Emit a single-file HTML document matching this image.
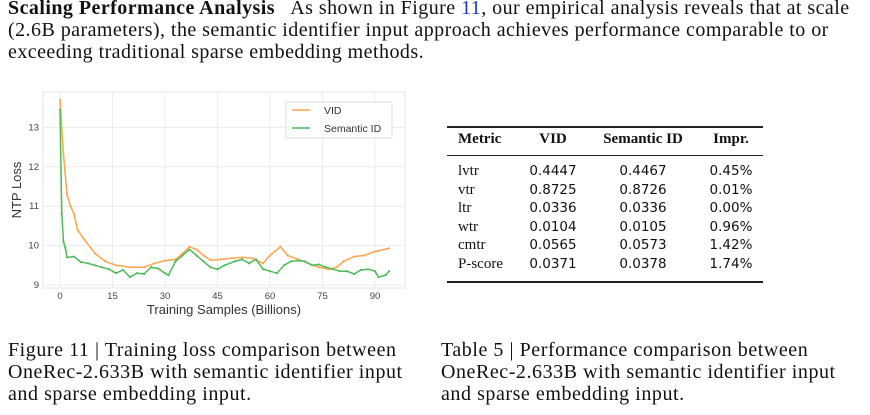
<!DOCTYPE html>
<html><head><meta charset="utf-8"><style>
body{margin:0;width:870px;height:415px;background:#fff;position:relative;overflow:hidden;font-family:"Liberation Serif",serif;color:#111}
.p{position:absolute;left:8px;font-size:20px;white-space:nowrap;letter-spacing:0.45px}
.cap{position:absolute;font-size:20px;line-height:22px;white-space:nowrap;letter-spacing:0.55px}
.t{position:absolute;font-size:15px;white-space:nowrap}
.n{font-family:"DejaVu Sans","Liberation Sans",sans-serif;font-size:13.5px}
.rule{position:absolute;left:447px;width:316px;background:#222}
</style></head><body>
<div class="p" style="top:-3px"><b>Scaling Performance Analysis</b>&nbsp;&nbsp; As shown in Figure <span style="color:#2233cc">11</span>, our empirical analysis reveals that at scale</div>
<div class="p" style="top:19px">(2.6B parameters), the semantic identifier input approach achieves performance comparable to or</div>
<div class="p" style="top:41px">exceeding traditional sparse embedding methods.</div>

<svg width="420" height="235" style="position:absolute;left:0;top:85px" id="chart"></svg>

<div class="rule" style="top:126px;height:1.5px"></div>
<div class="rule" style="top:155px;height:1px"></div>
<div class="rule" style="top:281px;height:1.5px"></div>
<div id="tbl"></div>

<div class="cap" style="left:8px;top:339px">Figure 11 | Training loss comparison between<br>OneRec-2.633B with semantic identifier input<br>and sparse embedding input.</div>
<div class="cap" style="left:441px;top:339px">Table 5 | Performance comparison between<br>OneRec-2.633B with semantic identifier input<br>and sparse embedding input.</div>

<script>
const vidX=[0,1,2,3,4,5,7,10,13,16,20,24,27,30,33,35,37,39,41,43,46,49,52,55,58,60,63,65,68,71,74,77,79,81,84,87,90,94];
const vidY=[13.7,12.3,11.3,11.0,10.8,10.4,10.15,9.8,9.6,9.5,9.45,9.45,9.55,9.62,9.65,9.8,9.97,9.9,9.75,9.63,9.65,9.68,9.7,9.68,9.55,9.75,9.97,9.75,9.65,9.55,9.45,9.4,9.45,9.6,9.72,9.75,9.85,9.93];
const semX=[0,0.5,1,1.5,2,4,6,8,10,12,14,16,18,20,22,24,26,28,30,31,33,35,37,39,41,43,45,47,50,52,54,56,58,60,62,64,66,68,70,72,74,76,78,80,82,84,86,88,90,91,93,94];
const semY=[13.45,10.8,10.1,9.95,9.7,9.72,9.58,9.55,9.5,9.45,9.4,9.3,9.38,9.2,9.3,9.28,9.45,9.42,9.3,9.25,9.6,9.75,9.9,9.75,9.6,9.45,9.4,9.5,9.6,9.65,9.55,9.65,9.4,9.35,9.3,9.5,9.6,9.62,9.6,9.5,9.52,9.45,9.4,9.35,9.35,9.28,9.38,9.4,9.35,9.2,9.25,9.35];
const xTicks=[0,15,30,45,60,75,90];
const yTicks=[9,10,11,12,13];
const svg=document.getElementById('chart');
const NS='http://www.w3.org/2000/svg';
const sx=v=>60+v*3.5, sy=v=>200-(v-9)*39.4;
function mk(t,a,p){const e=document.createElementNS(NS,t);for(const k in a)e.setAttribute(k,a[k]);(p||svg).appendChild(e);return e;}
const frame=mk('rect',{x:43,y:7,width:362,height:196,fill:'#fff',stroke:'#e6e6e6'});


xTicks.forEach(t=>{const l=mk('line',{x1:sx(t),x2:sx(t),y1:7,y2:203,stroke:'#ececec'});


const tx=mk('text',{x:sx(t),y:214,'font-size':9.5,'text-anchor':'middle',fill:'#444','font-family':'Liberation Sans, sans-serif'});tx.textContent=t;

});
yTicks.forEach(t=>{const l=mk('line',{x1:43,x2:405,y1:sy(t),y2:sy(t),stroke:'#ececec'});


const tx=mk('text',{x:39,y:sy(t)+3,'font-size':9.5,'text-anchor':'end',fill:'#444','font-family':'Liberation Sans, sans-serif'});tx.textContent=t;

});
function series(xs,ys,c,name){const d=xs.map((x,i)=>(i?'L':'M')+sx(x).toFixed(1)+','+sy(ys[i]).toFixed(1)).join('');
const p=mk('path',{d:d,fill:'none',stroke:c,'stroke-width':1.5});


xs.forEach((x,i)=>{const c2=mk('circle',{cx:sx(x),cy:sy(ys[i]),r:1.1,fill:c});

});}
series(vidX,vidY,'#ffa64d','vid-line');
series(semX,semY,'#4dbb5a','semantic-id-line');
const xl=mk('text',{x:224,y:229,'font-size':13,'text-anchor':'middle',fill:'#333','font-family':'Liberation Sans, sans-serif'});xl.textContent='Training Samples (Billions)';


const yl=mk('text',{x:0,y:0,'font-size':13,'text-anchor':'middle',fill:'#333','font-family':'Liberation Sans, sans-serif',transform:'translate(21,105) rotate(-90)'});yl.textContent='NTP Loss';


const lg=mk('g',{});


mk('rect',{x:286,y:17,width:106,height:36,fill:'#fff',stroke:'#ddd'},lg);
mk('line',{x1:292,x2:310,y1:25,y2:25,stroke:'#ffa64d','stroke-width':1.5},lg);
mk('line',{x1:292,x2:310,y1:43,y2:43,stroke:'#4dbb5a','stroke-width':1.5},lg);
const t1=mk('text',{x:324,y:29,'font-size':10.5,fill:'#333','font-family':'Liberation Sans, sans-serif'},lg);t1.textContent='VID';
const t2=mk('text',{x:324,y:47,'font-size':10.5,fill:'#333','font-family':'Liberation Sans, sans-serif'},lg);t2.textContent='Semantic ID';

const rows=[['lvtr','0.4447','0.4467','0.45%'],['vtr','0.8725','0.8726','0.01%'],['ltr','0.0336','0.0336','0.00%'],['wtr','0.0104','0.0105','0.96%'],['cmtr','0.0565','0.0573','1.42%'],['P-score','0.0371','0.0378','1.74%']];
const tb=document.getElementById('tbl');
const cx=[458,553,643,731];
function cell(txt,x,y,cls,left,bold){const d=document.createElement('div');d.className='t '+(cls||'');d.textContent=txt;
d.style.top=(y-10)+'px';
if(left){d.style.left=x+'px';}else{d.style.left=(x-60)+'px';d.style.width='120px';d.style.textAlign='center';}
if(bold)d.style.fontWeight='bold';


tb.appendChild(d);}
['Metric','VID','Semantic ID','Impr.'].forEach((h,i)=>cell(h,cx[i],141,'',i==0,true));
rows.forEach((r,j)=>{const y=173+j*18.6;r.forEach((v,i)=>cell(v,cx[i],y,i?'n':'',i==0,false));});
</script>
</body></html>
